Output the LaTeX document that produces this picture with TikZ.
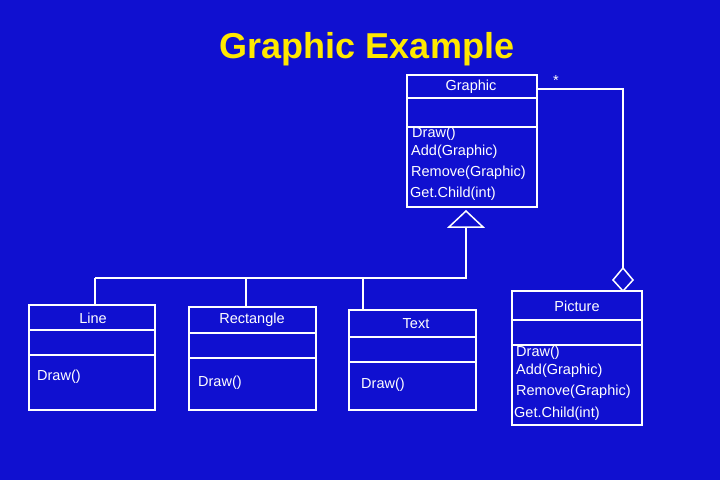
\documentclass[tikz,border=0pt]{standalone}
\usepackage{fontspec}
\setmainfont{Liberation Sans}
\definecolor{bg}{RGB}{16,16,208}
\definecolor{ttl}{RGB}{255,232,0}
\begin{document}
\begin{tikzpicture}[x=1pt,y=-1pt,
  ln/.style={draw=white,line width=1.5pt},
  lbl/.style={text=white,font=\fontsize{14.5}{16}\selectfont,inner sep=0},
  op/.style={lbl,anchor=west}]
\fill[bg] (0,0) rectangle (720,480);
\useasboundingbox (0,0) rectangle (720,480);
\node[text=ttl,font=\bfseries\fontsize{36}{40}\selectfont] (title) at (367,49) {Graphic Example};
% Graphic
\draw[ln] (407,75) rectangle (537,207);
\draw[ln] (407,98) -- (537,98); \draw[ln] (407,127) -- (537,127);
\node[lbl] (g) at (471,87) {Graphic};
\node[lbl] (star) at (556,81) {*};
\node[op] (g1) at (412,134) {Draw()};
\node[op] (g2) at (411,152) {Add(Graphic)};
\node[op] (g3) at (411,173) {Remove(Graphic)};
\node[op] (g4) at (410,194) {Get.Child(int)};
% triangle and tree
\draw[ln] (466,211) -- (483,227) -- (449,227) -- cycle;
\coordinate (tb) at (466,227); \coordinate (tj) at (466,278);
\coordinate (tl) at (95,278);
\draw[ln] (tb) -- (tj) -- (tl);
% Line
\draw[ln] (29,305) rectangle (155,410);
\draw[ln] (29,330) -- (155,330); \draw[ln] (29,355) -- (155,355);
\node[lbl] (l) at (93,318) {Line};
\node[op] (l1) at (37,377) {Draw()};
\draw[ln] (tl) -- (95,305);
% Rectangle
\draw[ln] (189,307) rectangle (316,410);
\draw[ln] (189,333) -- (316,333); \draw[ln] (189,358) -- (316,358);
\node[lbl] (r) at (252,320) {Rectangle};
\node[op] (r1) at (198,383) {Draw()};
\draw[ln] (246,278) -- (246,307);
% Text
\draw[ln] (349,310) rectangle (476,410);
\draw[ln] (349,337) -- (476,337); \draw[ln] (349,362) -- (476,362);
\node[lbl] (t) at (416,324) {Text};
\node[op] (t1) at (361,385) {Draw()};
\draw[ln] (363,278) -- (363,310);
% Picture
\draw[ln] (512,291) rectangle (642,425);
\draw[ln] (512,320) -- (642,320); \draw[ln] (512,345) -- (642,345);
\node[lbl] (p) at (577,306) {Picture};
\node[op] (p1) at (516,353) {Draw()};
\node[op] (p2) at (516,371) {Add(Graphic)};
\node[op] (p3) at (516,392) {Remove(Graphic)};
\node[op] (p4) at (514,414) {Get.Child(int)};
% aggregation
\draw[ln] (623,268) -- (633,280) -- (623,291) -- (613,280) -- cycle;
\draw[ln] (537,89) -- (623,89) -- (623,268);
\end{tikzpicture}
\end{document}
